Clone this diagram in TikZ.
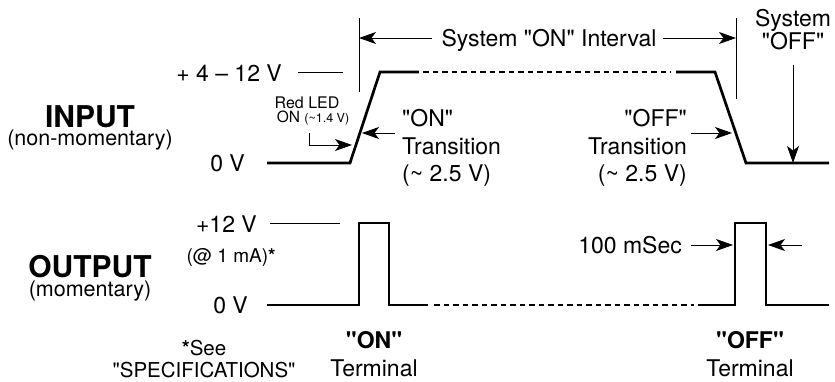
\documentclass[tikz,border=0pt]{standalone}
\usepackage{fontspec}
\setmainfont{TeX Gyre Heros}
\newcommand\qt{\textquotedbl}
\usetikzlibrary{arrows.meta,positioning,calc}

\begin{document}
\begin{tikzpicture}[x=1pt, y=-1pt, every node/.style={inner sep=0pt, font=\fontsize{23}{27.5}\selectfont},
  wave/.style={line width=2.7pt},
  dots/.style={line width=2.7pt, dash pattern=on 5.5pt off 4pt},
  lvl/.style={line width=0.8pt},
  arr/.style={line width=0.9pt, -{Stealth[length=17pt, width=12pt, inset=4.5pt]}},
  head/.style={font=\fontsize{30}{30}\selectfont\bfseries},
  sub/.style={font=\fontsize{21.5}{24}\selectfont},
  note/.style={font=\fontsize{20.5}{22}\selectfont, align=center}]
\useasboundingbox (0,0) rectangle (835,381);
% Input signal
\draw[wave] (267,163) -- (350,163) -- (380,72) -- (419,72);
\draw[dots] (423,72) -- (671,72);
\draw[wave] (676,72) -- (715,72) -- (746,163) -- (829,163);
% Output signal
\draw[wave] (267,305) -- (359,305) -- (359,223) -- (389,223) -- (389,305) -- (428,305);
\draw[dots] (434,305) -- (694,305);
\draw[wave] (698,305) -- (735,305) -- (735,223) -- (766,223) -- (766,305) -- (829,305);
% Input labels
\node[head] (input) at (90,117) {INPUT};
\node[sub] (inputsub) at (90,140) {(non-momentary)};
\node[anchor=east] (inhi) at (282,73) {+ 4 -- 12 V};
\draw[lvl] ($(inhi.east)+(16,-1)$) -- ++(45,0);
\node[anchor=east] (inlo) at (245,163) {0 V};
% Interval markers
\draw[lvl] (359,18) -- (359,92);
\draw[lvl] (736,18) -- (736,99);
\coordinate (onmk) at (359,38);
\coordinate (offmk) at (736,38);
\node (intv) at (549,40) {System \qt ON\qt{} Interval};
\draw[arr] ($(intv.west |- onmk)+(-9,0)$) -- (onmk);
\draw[arr] ($(intv.east |- offmk)+(6,0)$) -- (offmk);
\node[align=center, font=\fontsize{23}{22}\selectfont] (sysoff) at (793,30) {System\\\qt OFF\qt};
\coordinate (offlow) at (793,163);
\draw[arr] ($(sysoff.south)+(0,14)$) -- (offlow);
% Red LED
\node[font=\fontsize{16}{16}\selectfont] (led) at (307,103) {Red LED};
\node[font=\fontsize{15.5}{16}\selectfont] (ledon) at (313,118) {ON {\fontsize{12.5}{13}\selectfont(\textasciitilde1.4 V)}};
\coordinate (ledpt) at (352,145);
\draw[arr] ($(ledon.south)+(-4,8)$) |- (ledpt);
% Transitions
\node[anchor=west, align=left] (ontr) at (402,148) {\qt ON\qt\\Transition\\(\textasciitilde{} 2.5 V)};
\coordinate (onedge) at (362,133);
\draw[arr] ($(ontr.west |- onedge)+(-7,0)$) -- (onedge);
\node[anchor=east, align=right] (offtr) at (687,148) {\qt OFF\qt\\Transition\\(\textasciitilde{} 2.5 V)};
\coordinate (offedge) at (732,133);
\draw[arr] ($(offtr.east |- offedge)+(4,0)$) -- (offedge);
% Output labels
\node[head] (output) at (90,267) {OUTPUT};
\node[sub] (outputsub) at (90,291) {(momentary)};
\node[anchor=east] (outhi) at (257,224) {+12 V};
\draw[lvl] ($(outhi.east)+(13,-1)$) -- ++(70,0);
\node[font=\fontsize{19}{19}\selectfont] (outma) at (231,257) {(@ 1 mA)\textbf{*}};
\node[anchor=east] (outlo) at (248,305) {0 V};
\node[note] (see) at (204,359) {\textbf{*}See\\\qt SPECIFICATIONS\qt};
% Terminals
\node[align=center, font=\fontsize{23}{28}\selectfont] (onterm) at (374,354) {\textbf{\qt ON\qt}\\Terminal};
\node[align=center, font=\fontsize{23}{28}\selectfont] (offterm) at (750,354) {\textbf{\qt OFF\qt}\\Terminal};
% Pulse width
\node[anchor=east] (msec) at (682,245) {100 mSec};
\coordinate (pulsel) at (733,245);
\coordinate (pulser) at (768,245);
\coordinate (msecr) at (802,245);
\draw[arr] ($(msec.east)+(9,0)$) -- (pulsel);
\draw[arr] (msecr) -- (pulser);
\end{tikzpicture}
\end{document}
